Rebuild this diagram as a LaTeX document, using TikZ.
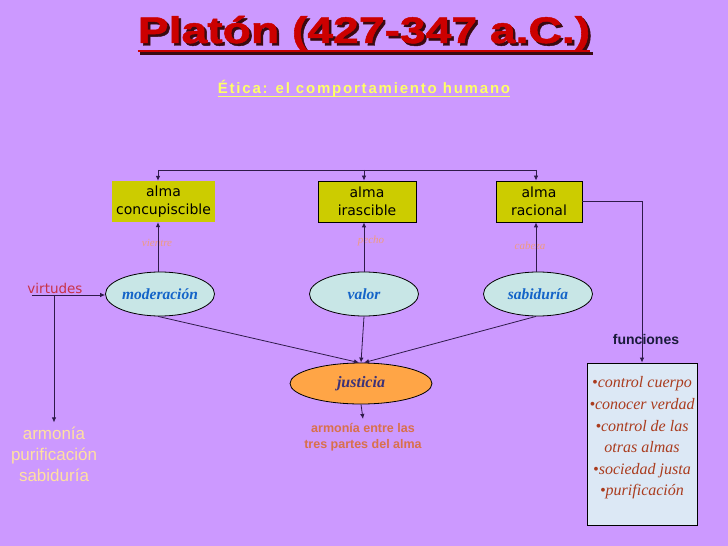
\documentclass[tikz,border=0pt]{standalone}
\usepackage{fontspec}
\usetikzlibrary{arrows.meta,shapes.geometric}
\setmainfont{Liberation Sans}
\newfontfamily\dvsans{DejaVu Sans}
\newfontfamily\serifit{Liberation Serif}
\newfontfamily\spacedfont[LetterSpace=12]{Liberation Sans}
\newfontfamily\titlefont[BoldFeatures={FakeBold=1.2}]{Liberation Sans}
\definecolor{bg}{HTML}{CC99FF}
\definecolor{titlered}{HTML}{CC0000}
\definecolor{titleshadow}{HTML}{3A0A10}
\definecolor{yel}{HTML}{FFFF66}
\definecolor{boxyel}{HTML}{CCCC00}
\definecolor{linec}{HTML}{2E1A4A}
\definecolor{ellfill}{HTML}{C8E6E6}
\definecolor{elltext}{HTML}{1464C8}
\definecolor{justfill}{HTML}{FFA546}
\definecolor{justtext}{HTML}{3C3278}
\definecolor{bodylbl}{HTML}{F09A80}
\definecolor{virtc}{HTML}{C83246}
\definecolor{peach}{HTML}{FFE0A0}
\definecolor{salmon}{HTML}{D9704A}
\definecolor{funcc}{HTML}{1A1A3A}
\definecolor{funcfill}{HTML}{DCE8F5}
\definecolor{functext}{HTML}{AA3C1E}
\tikzset{
  conn/.style={draw=linec, line width=0.8bp},
  arr/.style={conn, -{Latex[length=5bp,width=4.5bp]}},
  almabox/.style={rectangle, fill=boxyel, inner sep=0pt, align=center,
    font=\dvsans\fontsize{14bp}{18bp}\selectfont, text=black},
  virtue/.style={ellipse, draw=black, line width=0.8bp, fill=ellfill, inner sep=0pt,
    minimum width=109bp, minimum height=44bp,
    font=\serifit\bfseries\itshape\fontsize{15.5bp}{18bp}\selectfont, text=elltext},
  bodypart/.style={font=\serifit\itshape\fontsize{11bp}{13bp}\selectfont, text=bodylbl}
}
\begin{document}
\begin{tikzpicture}[x=1bp,y=-1bp]
\fill[bg] (0,0) rectangle (728,546);
\useasboundingbox (0,0) rectangle (728,546);

% title (shadow, then red text)
\node[anchor=base, inner sep=0pt, text=titleshadow] (tsh) at (366.5,45.5)
  {\titlefont\fontsize{37bp}{40bp}\selectfont\bfseries\scalebox{1.25}[1]{Platón (427-347 a.C.)}};
\draw[titleshadow, line width=2.5bp] ([yshift=-8bp]tsh.base west) -- ([yshift=-8bp]tsh.base east);
\node[anchor=base, inner sep=0pt, text=titlered] (title) at (364,43)
  {\titlefont\fontsize{37bp}{40bp}\selectfont\bfseries\scalebox{1.25}[1]{Platón (427-347 a.C.)}};
\draw[titlered, line width=2.5bp] ([yshift=-8bp]title.base west) -- ([yshift=-8bp]title.base east);

% subtitle
\node[anchor=base, inner sep=0pt, text=yel] (sub) at (364,94)
  {\spacedfont\bfseries\fontsize{15bp}{17bp}\selectfont Ética: el comportamiento humano};
\draw[yel, line width=1bp] ([yshift=-3bp]sub.base west) -- ([yshift=-3bp]sub.base east);

% alma boxes
\node[almabox, minimum width=103bp, minimum height=41bp] (conc) at (163.5,201.5) {alma\\concupiscible};
\node[almabox, draw=black, line width=0.8bp, minimum width=98bp, minimum height=41bp] (iras) at (367,201.5) {alma\\irascible};
\node[almabox, draw=black, line width=0.8bp, minimum width=86bp, minimum height=41bp] (rac) at (539,201.5) {alma\\racional};

% top distribution line
\coordinate (tl) at (158,170);
\coordinate (tm) at (364,170);
\coordinate (tr) at (536,170);
\draw[conn] (tl) -- (tr);
\draw[arr] (tl) -- (tl |- conc.north);
\draw[arr] (tm) -- (tm |- iras.north);
\draw[arr] (tr) -- (tr |- rac.north);

% body part labels
\node[bodypart] (vientre) at (157,243) {vientre};
\node[bodypart] (pecho) at (371,241) {pecho};
\node[bodypart] (cabeza) at (530,246) {cabeza};

% virtues
\node[virtue] (mod) at (160,294) {moderación};
\node[virtue] (val) at (364,294) {valor};
\node[virtue] (sab) at (538,294) {sabiduría};

\draw[arr] ([xshift=-2bp]mod.north) -- ([xshift=-2bp]mod.north |- conc.south);
\draw[arr] (val.north) -- (val.north |- iras.south);
\draw[arr] ([xshift=-2bp]sab.north) -- ([xshift=-2bp]sab.north |- rac.south);

% justicia
\node[ellipse, draw=black, line width=0.8bp, fill=justfill, inner sep=0pt,
  minimum width=142bp, minimum height=41bp,
  font=\serifit\bfseries\itshape\fontsize{16bp}{19bp}\selectfont, text=justtext] (just) at (361,383.5) {justicia};
\draw[arr] ([xshift=-2bp]mod.south) -- ([xshift=-2bp]just.north);
\draw[arr] (val.south) -- (just.north);
\draw[arr] ([xshift=-2bp]sab.south) -- ([xshift=3bp]just.north);

\node[align=center, inner sep=0pt, text=salmon, font=\bfseries\fontsize{12.5bp}{16bp}\selectfont]
  (armj) at (363,437) {armonía entre las\\tres partes del alma};
\draw[arr] (just.south) -- ([yshift=4bp]armj.north);

% virtudes
\node[inner sep=0pt, text=virtc, font=\dvsans\fontsize{13.5bp}{16bp}\selectfont] (virt) at (55,288) {virtudes};
\coordinate (vl) at (32,295);
\coordinate (vj) at (54,295);
\draw[arr] (vl) -- (vl -| mod.west);
\node[align=center, inner sep=0pt, text=peach, font=\fontsize{17bp}{21bp}\selectfont]
  (arm) at (54,454) {armonía\\purificación\\sabiduría};
\draw[arr] (vj) -- ([yshift=4bp]vj |- arm.north);

% funciones
\node[rectangle, draw=black, line width=0.8bp, fill=funcfill, minimum width=110bp, minimum height=162bp, inner sep=0pt]
  (fbox) at (642,444) {};
\draw[arr] (rac.east) -| (fbox.north);
\node[inner sep=0pt, text=funcc, font=\bfseries\fontsize{14bp}{16bp}\selectfont] (func) at (646,339) {funciones};
\node[align=center, inner sep=0pt, text=functext, font=\serifit\itshape\fontsize{16bp}{21.6bp}\selectfont]
  (ftext) at (642,438) {•control cuerpo\\•conocer verdad\\•control de las\\otras almas\\•sociedad justa\\•purificación};
\end{tikzpicture}
\end{document}
